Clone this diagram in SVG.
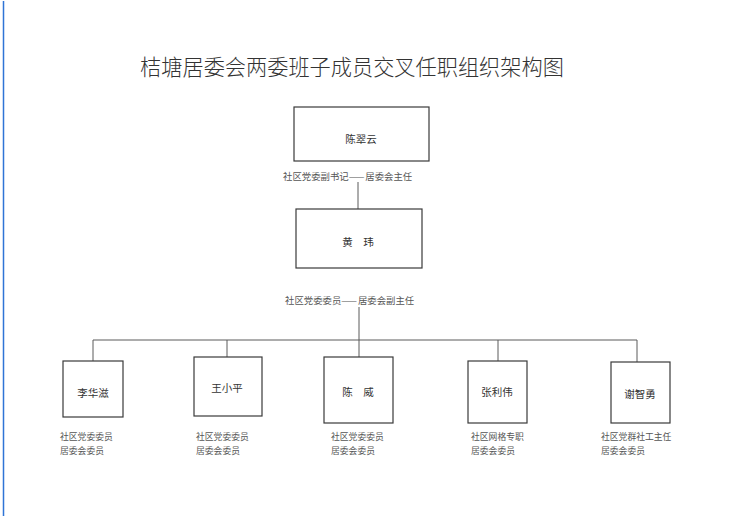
<svg xmlns="http://www.w3.org/2000/svg" width="751" height="517" viewBox="0 0 751 517">
<style>
text{font-family:"Noto Sans CJK SC","Liberation Sans",sans-serif;}
.title{font-size:21.2px;fill:#333;text-anchor:middle;font-weight:300;}
.box{fill:#fff;stroke:#3a3a3a;stroke-width:1.2;}
.name{font-size:10.5px;fill:#333;text-anchor:middle;dominant-baseline:central;}
.role{font-size:9.4px;fill:#555;dominant-baseline:central;}
.sub{font-size:8.8px;fill:#555;dominant-baseline:central;}
.line{stroke:#5a5a5a;stroke-width:1;fill:none;}
</style>
<rect width="751" height="517" fill="#fff"/>
<line x1="3.5" y1="1" x2="3.5" y2="516" stroke="#2f74d6" stroke-width="1.5"/>
<text class="title" x="352" y="75">桔塘居委会两委班子成员交叉任职组织架构图</text>
<g id="connectors">
<line class="line" x1="358" y1="182" x2="358" y2="209"/>
<line class="line" x1="359" y1="307" x2="359" y2="358"/>
<line class="line" x1="93" y1="340" x2="637" y2="340"/>
<line class="line" x1="93" y1="340" x2="93" y2="361"/>
<line class="line" x1="227" y1="340" x2="227" y2="357"/>
<line class="line" x1="498" y1="340" x2="498" y2="361"/>
<line class="line" x1="637" y1="340" x2="637" y2="362"/>
</g>
<g id="node-chencuiyun">
<rect class="box" x="294" y="107" width="135" height="54"/>
<text class="name" x="361" y="138">陈翠云</text>
<text class="role" x="283" y="176">社区党委副书记<tspan letter-spacing="1">——</tspan>居委会主任</text>
</g>
<g id="node-huangwei">
<rect class="box" x="296" y="209" width="126" height="59"/>
<text class="name" x="358" y="241">黄　玮</text>
<text class="role" x="285" y="300">社区党委委员<tspan letter-spacing="1">——</tspan>居委会副主任</text>
</g>
<g id="node-lihuazi">
<rect class="box" x="63" y="361" width="60" height="56"/>
<text class="name" x="93" y="392">李华滋</text>
<text class="sub" x="60" y="436">社区党委委员</text>
<text class="sub" x="60" y="450">居委会委员</text>
</g>
<g id="node-wangxiaoping">
<rect class="box" x="194" y="357" width="68" height="59"/>
<text class="name" x="227" y="387">王小平</text>
<text class="sub" x="196" y="436">社区党委委员</text>
<text class="sub" x="196" y="450">居委会委员</text>
</g>
<g id="node-chenwei">
<rect class="box" x="324" y="357" width="69" height="66"/>
<text class="name" x="358" y="391">陈　威</text>
<text class="sub" x="331" y="436">社区党委委员</text>
<text class="sub" x="331" y="450">居委会委员</text>
</g>
<g id="node-zhangliwei">
<rect class="box" x="468" y="361" width="59" height="62"/>
<text class="name" x="497" y="391">张利伟</text>
<text class="sub" x="471" y="436">社区网格专职</text>
<text class="sub" x="471" y="450">居委会委员</text>
</g>
<g id="node-xiezhiyong">
<rect class="box" x="611" y="362" width="59" height="61"/>
<text class="name" x="640" y="393">谢智勇</text>
<text class="sub" x="601" y="436">社区党群社工主任</text>
<text class="sub" x="601" y="450">居委会委员</text>
</g>
</svg>
